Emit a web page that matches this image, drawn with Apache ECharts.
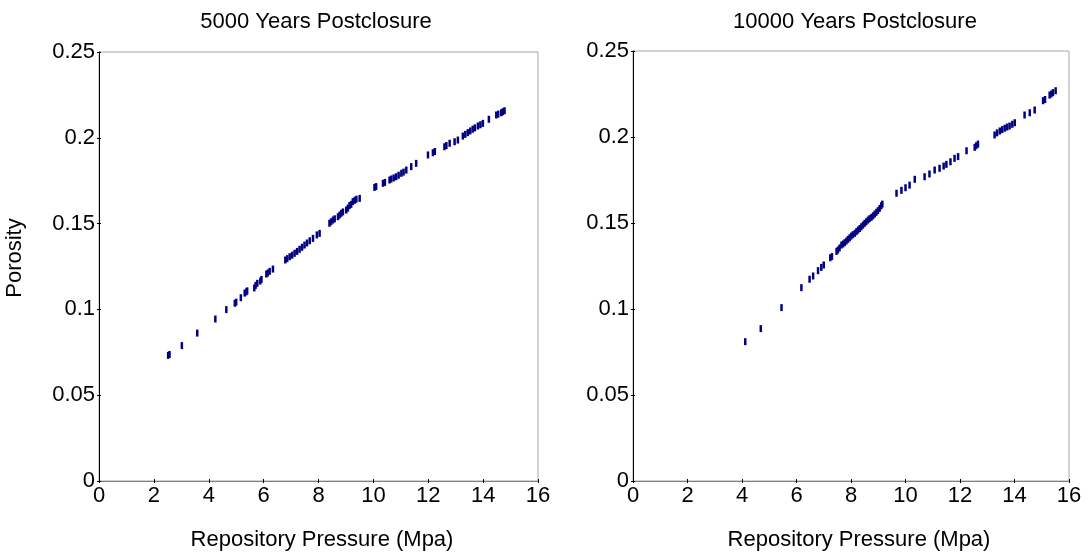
<!DOCTYPE html>
<html>
<head>
<meta charset="utf-8">
<script src="https://cdn.jsdelivr.net/npm/echarts@6/dist/echarts.min.js"></script>
<style>html,body{margin:0;padding:0;background:#fff;}#c{width:1091px;height:554px;}</style>
</head>
<body>
<div id="c"></div>
<script>
const xTickLabels = ['0','2','4','6','8','10','12','14','16'];
const yTickLabels = ['0','0.05','0.1','0.15','0.2','0.25'];
const titles = ['5000 Years Postclosure', '10000 Years Postclosure'];
const xName = 'Repository Pressure (Mpa)';
const yName = 'Porosity';

const leftX = [2.52,2.57,3.02,3.58,4.24,4.64,4.95,5.0,5.17,5.31,5.37,5.40,5.66,5.71,5.77,5.88,5.92,6.10,6.15,6.22,6.34,6.79,6.86,6.95,7.04,7.13,7.22,7.31,7.40,7.49,7.58,7.68,7.80,7.94,8.04,8.40,8.46,8.53,8.59,8.71,8.77,8.83,8.89,9.01,9.07,9.13,9.19,9.25,9.32,9.38,9.50,10.04,10.10,10.35,10.42,10.59,10.65,10.74,10.83,10.92,11.02,11.10,11.20,11.38,11.56,11.99,12.17,12.24,12.59,12.66,12.78,12.96,13.08,13.26,13.35,13.44,13.53,13.62,13.70,13.81,13.90,13.99,14.21,14.48,14.55,14.66,14.72,14.78];
const leftY = [0.0732,0.0737,0.0789,0.0862,0.0944,0.0999,0.1036,0.1042,0.1068,0.1095,0.1102,0.1108,0.1125,0.1140,0.1152,0.1165,0.1175,0.1206,0.1212,0.1222,0.1235,0.1288,0.1296,0.1307,0.1316,0.1327,0.1338,0.1350,0.1362,0.1375,0.1387,0.1400,0.1414,0.1434,0.1443,0.1502,0.1511,0.1521,0.1528,0.1540,0.1550,0.1560,0.1568,0.1579,0.1590,0.1605,0.1612,0.1628,0.1636,0.1642,0.1647,0.1711,0.1716,0.1735,0.1740,0.1754,0.1760,0.1766,0.1773,0.1782,0.1793,0.1800,0.1812,0.1832,0.1851,0.1900,0.1913,0.1920,0.1948,0.1955,0.1968,0.1977,0.1987,0.2010,0.2020,0.2030,0.2040,0.2050,0.2058,0.2069,0.2076,0.2084,0.2108,0.2133,0.2138,0.2146,0.2152,0.2158];

const rightX = [4.12,4.69,5.45,6.18,6.48,6.61,6.79,6.91,7.00,7.24,7.30,7.47,7.52,7.58,7.65,7.71,7.77,7.83,7.89,7.95,8.01,8.07,8.14,8.20,8.26,8.32,8.38,8.44,8.50,8.56,8.62,8.68,8.75,8.81,8.87,8.93,8.99,9.05,9.11,9.15,9.67,9.85,10.00,10.15,10.34,10.70,10.88,11.07,11.25,11.40,11.50,11.65,11.80,11.93,12.24,12.54,12.60,12.66,13.27,13.36,13.46,13.55,13.64,13.73,13.82,13.92,14.01,14.37,14.56,14.74,15.05,15.12,15.29,15.35,15.41,15.51];
const rightY = [0.0810,0.0886,0.1008,0.1124,0.1173,0.1192,0.1223,0.1242,0.1256,0.1298,0.1305,0.1335,0.1343,0.1355,0.1372,0.1378,0.1386,0.1395,0.1405,0.1414,0.1424,0.1432,0.1440,0.1450,0.1459,0.1468,0.1478,0.1488,0.1498,0.1507,0.1517,0.1525,0.1533,0.1542,0.1552,0.1562,0.1572,0.1585,0.1600,0.1610,0.1673,0.1690,0.1705,0.1720,0.1754,0.1769,0.1785,0.1808,0.1818,0.1831,0.1841,0.1856,0.1876,0.1886,0.1920,0.1940,0.1950,0.1959,0.2012,0.2024,0.2035,0.2043,0.2051,0.2058,0.2064,0.2074,0.2083,0.2128,0.2141,0.2157,0.2211,0.2218,0.2244,0.2250,0.2258,0.2269];

const FONT = 'Liberation Sans';
function pairs(xs, ys){ return xs.map((x,i)=>[x, ys[i]]); }

function xAxes(g){
  return [
    {gridIndex:g, type:'value', min:0, max:16, interval:2,
     axisLine:{show:true, onZero:false, lineStyle:{color:'#7f7f7f', width:1}},
     axisTick:{show:true, length:2, lineStyle:{color:'#000'}},
     axisLabel:{fontSize:22, color:'#000', fontFamily:FONT, margin:4,
       formatter:(v,i)=>xTickLabels[i]},
     splitLine:{show:false}},
    {gridIndex:g, type:'value', min:0, max:16, interval:2, position:'bottom',
     axisLine:{show:false, onZero:false},
     axisTick:{show:true, inside:true, length:2, lineStyle:{color:'#000'}},
     axisLabel:{show:false}, splitLine:{show:false}}
  ];
}
function yAxes(g){
  return [
    {gridIndex:g, type:'value', min:0, max:0.25, interval:0.05,
     axisLine:{show:true, onZero:false, lineStyle:{color:'#000', width:1}},
     axisTick:{show:true, length:2, lineStyle:{color:'#000'}},
     axisLabel:{fontSize:22, color:'#000', fontFamily:FONT, margin:4, padding:[0,0,7,0],
       formatter:(v,i)=>yTickLabels[i]},
     splitLine:{show:false}},
    {gridIndex:g, type:'value', min:0, max:0.25, interval:0.05, position:'left',
     axisLine:{show:false, onZero:false},
     axisTick:{show:true, inside:true, length:2, lineStyle:{color:'#000'}},
     axisLabel:{show:false}, splitLine:{show:false}}
  ];
}

const chart = echarts.init(document.getElementById('c'), null, {renderer:'canvas'});
const markStyle = {symbol:'rect', symbolSize:[2.5,7], itemStyle:{color:'#000080', opacity:1}};
chart.setOption({
  backgroundColor:'#fff',
  animation:false,
  grid:[
    {left:99, top:52, width:439, height:429, show:true, borderColor:'#a6a6a6', borderWidth:1, backgroundColor:'transparent'},
    {left:633, top:51, width:436, height:430, show:true, borderColor:'#a6a6a6', borderWidth:1, backgroundColor:'transparent'}
  ],
  xAxis: xAxes(0).concat(xAxes(1)),
  yAxis: yAxes(0).concat(yAxes(1)),
  series:[
    Object.assign({type:'scatter', xAxisIndex:0, yAxisIndex:0, data:pairs(leftX,leftY)}, markStyle),
    Object.assign({type:'scatter', xAxisIndex:2, yAxisIndex:2, data:pairs(rightX,rightY)}, markStyle)
  ],
  graphic:[
    {type:'text', x:316, y:22, style:{text:titles[0], fill:'#000', fontSize:22, fontFamily:FONT, align:'center', verticalAlign:'middle'}},
    {type:'text', x:855, y:22, style:{text:titles[1], fill:'#000', fontSize:22, fontFamily:FONT, align:'center', verticalAlign:'middle'}},
    {type:'text', x:322, y:540, style:{text:xName, fill:'#000', fontSize:22, fontFamily:FONT, align:'center', verticalAlign:'middle'}},
    {type:'text', x:859, y:540, style:{text:xName, fill:'#000', fontSize:22, fontFamily:FONT, align:'center', verticalAlign:'middle'}},
    {type:'text', x:15, y:258, rotation:Math.PI/2, style:{text:yName, fill:'#000', fontSize:22, fontFamily:FONT, align:'center', verticalAlign:'middle'}}
  ]
});
</script>
</body>
</html>
